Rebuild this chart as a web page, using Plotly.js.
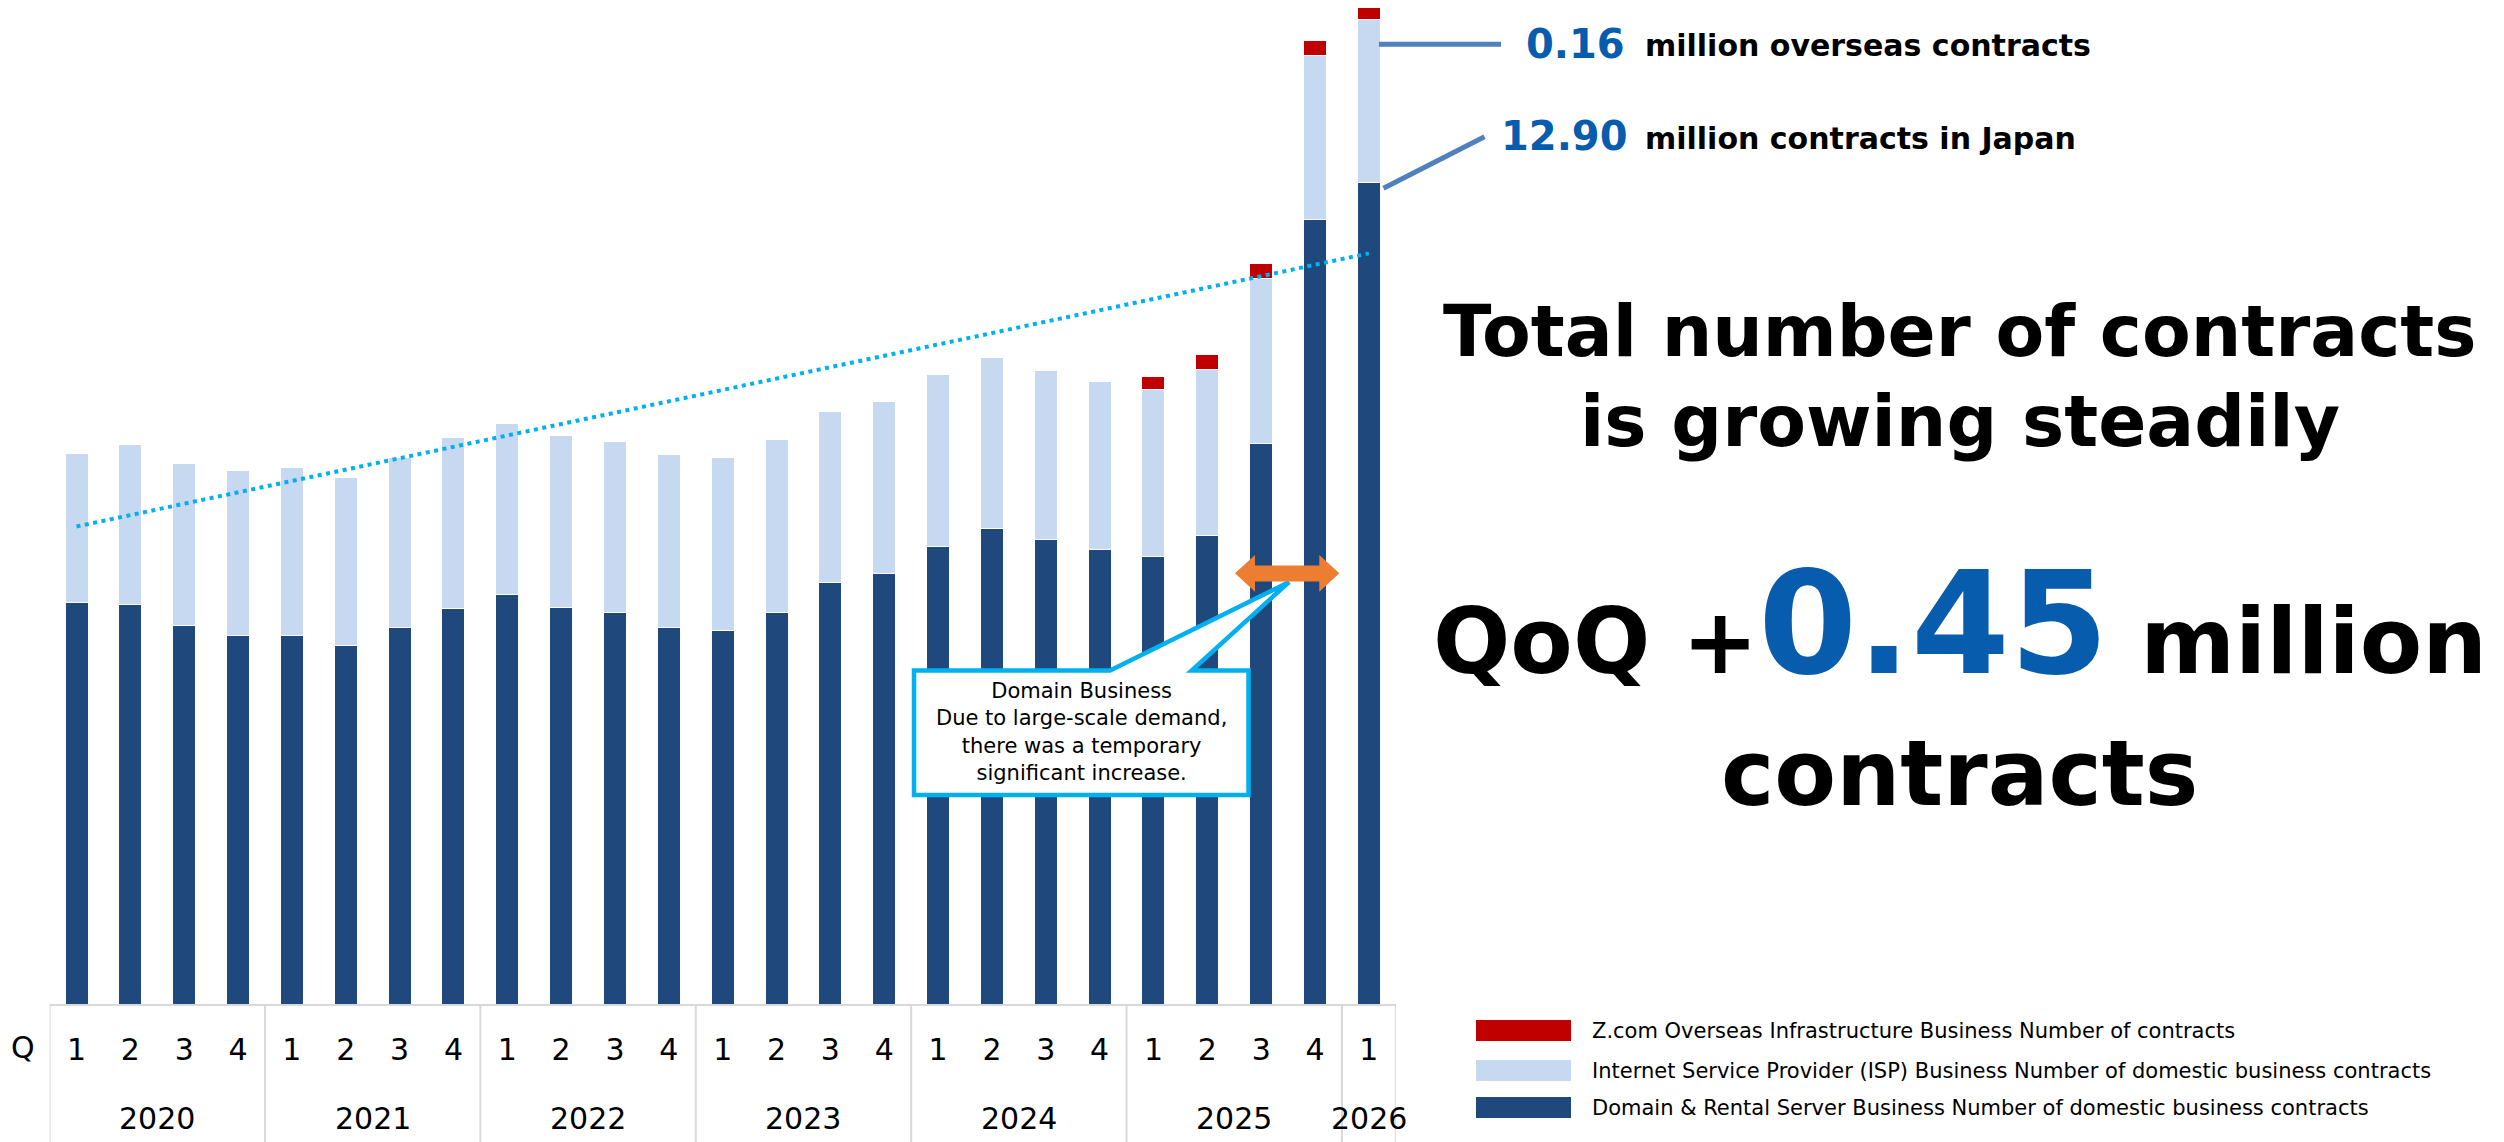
<!DOCTYPE html>
<html>
<head>
<meta charset="utf-8">
<script src="https://cdn.plot.ly/plotly-3.0.1.min.js"></script>
<style>
  html, body { margin: 0; padding: 0; background: #ffffff; }
  #chart { width: 2504px; height: 1142px; }
</style>
</head>
<body>
<div id="chart"></div>
<script>
// ---------------- DATA (millions of contracts) ----------------
const yearLabels = ['2020','2020','2020','2020','2021','2021','2021','2021','2022','2022','2022','2022',
                    '2023','2023','2023','2023','2024','2024','2024','2024','2025','2025','2025','2025','2026'];
const quarterLabels = ['1','2','3','4','1','2','3','4','1','2','3','4',
                       '1','2','3','4','1','2','3','4','1','2','3','4','1'];
// Domain & Rental Server Business — domestic contracts
const domainRental = [5.27,5.24,4.96,4.83,4.83,4.70,4.94,5.18,5.37,5.20,5.13,4.94,
                      4.90,5.13,5.52,5.65,6.00,6.24,6.09,5.96,5.87,6.14,7.35,10.29,10.77];
// Internet Service Provider (ISP) Business — domestic contracts
const ispBusiness = [1.95,2.09,2.13,2.16,2.20,2.20,2.22,2.25,2.24,2.25,2.25,2.26,
                     2.26,2.27,2.25,2.25,2.25,2.24,2.22,2.20,2.18,2.18,2.16,2.15,2.13];
// Z.com Overseas Infrastructure Business
const overseas = [null,null,null,null,null,null,null,null,null,null,null,null,
                  null,null,null,null,null,null,null,null,0.17,0.19,0.20,0.19,0.16];
// Dotted trend line (first and last quarter)
const trendYears = ['2020','2026'];
const trendQuarters = ['1','1'];
const trendValues = [6.26, 9.84];

const seriesNames = [
  'Z.com Overseas Infrastructure Business Number of contracts',
  'Internet Service Provider (ISP) Business Number of domestic business contracts',
  'Domain & Rental Server Business Number of domestic business contracts'
];
const colors = { overseas: '#C00000', isp: '#C6D9F1', domain: '#1F497D', trend: '#00B0F0' };

// ---------------- LAYOUT HELPERS (pixel -> paper) ----------------
const W = 2504, H = 1142;
const px = x => x / W;
const py = y => 1 - y / H;
const FONT = 'DejaVu Sans, Verdana, sans-serif';
const GRID = '#D9D9D9';

const key = (y, q) => y + ' Q' + q;
const keys = yearLabels.map((y, i) => key(y, quarterLabels[i]));
const barLine = { color: '#FFFFFF', width: 1 };

const traces = [
  { type: 'bar', name: seriesNames[2], x: keys, y: domainRental,
    marker: { color: colors.domain, line: barLine }, hoverinfo: 'y' },
  { type: 'bar', name: seriesNames[1], x: keys, y: ispBusiness,
    marker: { color: colors.isp, line: barLine }, hoverinfo: 'y' },
  { type: 'bar', name: seriesNames[0], x: keys, y: overseas,
    marker: { color: colors.overseas, line: barLine }, hoverinfo: 'y' },
  { type: 'scatter', mode: 'lines', x: trendYears.map((y, i) => key(y, trendQuarters[i])), y: trendValues,
    line: { color: colors.trend, width: 4, dash: '4px,4.5px' }, hoverinfo: 'skip' }
];

function path(pts) {
  return 'M ' + pts.map(p => px(p[0]).toFixed(6) + ',' + py(p[1]).toFixed(6)).join(' L ') + ' Z';
}

const shapes = [];
const annotations = [];
function ann(x, y, text, size, opts) {
  annotations.push(Object.assign({ xref: 'paper', yref: 'paper', x: px(x), y: py(y), text: text,
    showarrow: false, xanchor: 'center', yanchor: 'middle',
    font: { family: FONT, size: size, color: '#000000' } }, opts || {}));
}

// year group dividers + year labels (category axis table)
const groups = [];
yearLabels.forEach((y, i) => {
  if (i === 0 || y !== yearLabels[i - 1]) groups.push({ year: y, first: i, last: i });
  else groups[groups.length - 1].last = i;
});
const bounds = groups.map(g => g.first - 0.5).concat([yearLabels.length - 0.5]);
bounds.forEach(b => {
  shapes.push({ type: 'line', xref: 'x', yref: 'paper', x0: b, x1: b, y0: py(1004), y1: py(1142),
    line: { color: GRID, width: 2 }, layer: 'above' });
});
groups.forEach(g => {
  annotations.push({ xref: 'x', yref: 'paper', x: (g.first + g.last) / 2, y: py(1118), text: g.year,
    showarrow: false, xanchor: 'center', yanchor: 'middle',
    font: { family: FONT, size: 30, color: '#000000' } });
});

// legend swatches
[[1020, colors.overseas], [1060, colors.isp], [1097, colors.domain]].forEach(([y, c]) => {
  shapes.push({ type: 'rect', xref: 'paper', yref: 'paper', x0: px(1476), x1: px(1571),
    y0: py(y), y1: py(y + 21), fillcolor: c, line: { width: 0 }, layer: 'above' });
});
// connector lines
shapes.push({ type: 'line', xref: 'paper', yref: 'paper', x0: px(1379), y0: py(44.3), x1: px(1501), y1: py(44.3),
  line: { color: '#4F81BD', width: 5 }, layer: 'above' });
shapes.push({ type: 'line', xref: 'paper', yref: 'paper', x0: px(1383.5), y0: py(188.3), x1: px(1484.5), y1: py(136.7),
  line: { color: '#4F81BD', width: 5 }, layer: 'above' });
// callout box with pointer
shapes.push({ type: 'path', xref: 'paper', yref: 'paper', layer: 'above',
  path: path([[914,670.5],[1110,670.5],[1289,582],[1191.7,670.5],[1248.5,670.5],[1248.5,795],[914,795]]),
  fillcolor: '#FFFFFF', line: { color: '#00B0F0', width: 4.5 } });
// orange double arrow
shapes.push({ type: 'path', xref: 'paper', yref: 'paper', layer: 'above',
  path: path([[1235,573.3],[1255,555],[1255,565.5],[1319.3,565.5],[1319.3,555],[1339.3,573.3],
              [1319.3,591.7],[1319.3,581.5],[1255,581.5],[1255,591.7]]),
  fillcolor: '#ED7D31', line: { width: 0 } });

const BLUE = '#075CAD';
// Q label
ann(23.3, 1047.5, 'Q', 30);
// legend texts
ann(1590, 1030.5, seriesNames[0], 21, { xanchor: 'left' });
ann(1590, 1070.5, seriesNames[1], 21, { xanchor: 'left' });
ann(1590, 1107.5, seriesNames[2], 21, { xanchor: 'left' });
// callout text
ann(1081, 731.5, 'Domain Business<br>Due to large-scale demand,<br>there was a temporary<br>significant increase.', 21);
// right side call-outs
ann(1627, 44, '<b>0.16</b>', 40, { xanchor: 'right', font: { family: FONT, size: 40, color: BLUE } });
ann(1643, 46, '<b>million overseas contracts</b>', 30, { xanchor: 'left' });
ann(1630, 136, '<b>12.90</b>', 40, { xanchor: 'right', font: { family: FONT, size: 40, color: BLUE } });
ann(1643, 138, '<b>million contracts in Japan</b>', 30, { xanchor: 'left' });
// headline block
ann(1960, 331, '<b>Total number of contracts</b>', 71);
ann(1960, 422, '<b>is growing steadily</b>', 71);
ann(1960, 624, '<b>QoQ +<span style="font-size:142px;color:' + BLUE + '">0.45</span> million</b>', 91);
ann(1960, 773, '<b>contracts</b>', 90);

const layout = {
  width: W, height: H,
  margin: { l: 0, r: 0, t: 0, b: 0, pad: 0 },
  paper_bgcolor: '#FFFFFF', plot_bgcolor: '#FFFFFF',
  showlegend: false,
  barmode: 'stack', bargap: 0.573,
  font: { family: FONT, color: '#000000' },
  xaxis: {
    type: 'category',
    categoryorder: 'array', categoryarray: keys,
    tickmode: 'array', tickvals: keys, ticktext: quarterLabels,
    domain: [49.6 / W, 1395.8 / W],
    range: [-0.5, 24.5],
    showline: true, linecolor: GRID, linewidth: 2,
    ticks: '', showgrid: false, zeroline: false,
    ticklabelstandoff: 18,
    tickfont: { family: FONT, size: 30, color: '#000000' },
    fixedrange: true
  },
  yaxis: {
    domain: [1 - 1004 / H, 1 - 4 / H],
    range: [0, 1000 / 76.28],
    visible: false, showgrid: false, zeroline: false, fixedrange: true
  },
  shapes: shapes,
  annotations: annotations
};

Plotly.newPlot('chart', traces, layout, { staticPlot: true, displayModeBar: false });
</script>
</body>
</html>
